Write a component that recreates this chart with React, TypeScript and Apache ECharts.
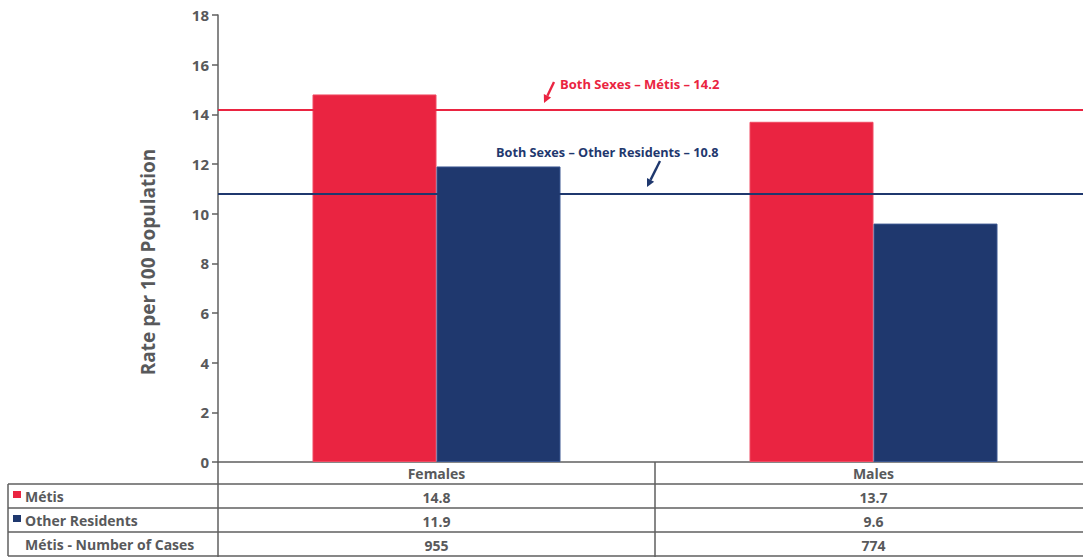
import React, { useEffect, useRef } from "react";
import * as echarts from "echarts";

const categories = ["Females", "Males"];
const metisRates = [14.8, 13.7];
const otherRates = [11.9, 9.6];
const metisCases = [955, 774];
const metisAverage = 14.2;
const otherAverage = 10.8;
const yTicks = { min: 0, max: 18, interval: 2 };
const rowLabels = ["Métis", "Other Residents", "Métis - Number of Cases"];

const RED = "#EA2441";
const NAVY = "#1F386E";
const GREY = "#58595B";
const LINE = "#5f5f5f";
const FONT = "'Open Sans', 'Noto Sans', sans-serif";
const NOTE_FONT = "'Liberation Sans Narrow', 'Open Sans', sans-serif";

function arrow(x1: number, y1: number, x2: number, y2: number, color: string) {
  const dx = x2 - x1;
  const dy = y2 - y1;
  const len = Math.sqrt(dx * dx + dy * dy);
  const ux = dx / len;
  const uy = dy / len;
  const px = -uy;
  const py = ux;
  const head = 8;
  const half = 4;
  const bx = x2 - ux * head;
  const by = y2 - uy * head;
  return [
    {
      type: "line",
      shape: { x1, y1, x2: bx, y2: by },
      style: { stroke: color, lineWidth: 2.4 },
      z: 20,
    },
    {
      type: "polygon",
      shape: {
        points: [
          [x2, y2],
          [bx + px * half, by + py * half],
          [bx - px * half, by - py * half],
        ],
      },
      style: { fill: color },
      z: 20,
    },
  ];
}

export default function App() {
  const ref = useRef<HTMLDivElement>(null);
  useEffect(() => {
    if (!ref.current) return;
    const chart = echarts.init(ref.current, undefined, { renderer: "svg" });
    const tableLines = [484, 508, 532, 556].map((y) => ({
      type: "line",
      shape: { x1: 8, y1: y, x2: 1083, y2: y },
      style: { stroke: LINE, lineWidth: 1.5 },
      z: 10,
    }));
    const rowTexts = rowLabels.map((t, i) => ({
      type: "text",
      x: 25,
      y: 496 + i * 24,
      style: {
        text: t,
        fill: GREY,
        font: `bold 14px ${FONT}`,
        textAlign: "left",
        textVerticalAlign: "middle",
      },
      z: 10,
    }));
    chart.setOption({
      animation: false,
      grid: {
        left: 218,
        top: 15,
        width: 874,
        height: 447,
        containLabel: false,
        outerBoundsMode: "none",
      },
      xAxis: {
        type: "category",
        data: categories,
        axisLine: { show: true, lineStyle: { color: LINE, width: 1.5 } },
        axisTick: { show: true, length: 95, lineStyle: { color: LINE, width: 1.5 } },
        axisLabel: {
          margin: 0,
          color: GREY,
          fontFamily: FONT,
          fontWeight: "bold",
          fontSize: 14,
          lineHeight: 23.8,
          verticalAlign: "top",
          formatter: (v: string, i: number) =>
            [v, metisRates[i].toFixed(1), otherRates[i].toFixed(1), String(metisCases[i])].join("\n"),
        },
      },
      yAxis: {
        type: "value",
        min: yTicks.min,
        max: yTicks.max,
        interval: yTicks.interval,
        splitLine: { show: false },
        axisLine: { show: true, lineStyle: { color: LINE, width: 1.5 } },
        axisTick: { show: true, length: 6, lineStyle: { color: LINE, width: 1.5 } },
        axisLabel: {
          color: GREY,
          fontFamily: FONT,
          fontWeight: "bold",
          fontSize: 15,
          margin: 9,
        },
      },
      series: [
        {
          name: "Métis",
          type: "bar",
          data: metisRates,
          barWidth: 124,
          barGap: "0%",
          itemStyle: { color: RED, borderColor: "#F04A62", borderWidth: 1 },
          markLine: {
            silent: true,
            symbol: "none",
            label: { show: false },
            lineStyle: { color: RED, type: "solid", width: 2 },
            data: [{ yAxis: metisAverage }],
          },
        },
        {
          name: "Other Residents",
          type: "bar",
          data: otherRates,
          barWidth: 124,
          barGap: "0%",
          itemStyle: { color: NAVY, borderColor: "#3A5690", borderWidth: 1 },
          markLine: {
            silent: true,
            symbol: "none",
            label: { show: false },
            lineStyle: { color: NAVY, type: "solid", width: 2 },
            data: [{ yAxis: otherAverage }],
          },
        },
      ],
      graphic: [
        {
          type: "text",
          x: 148,
          y: 262,
          rotation: Math.PI / 2,
          style: {
            text: "Rate per 100 Population",
            fill: GREY,
            font: `bold 19px ${FONT}`,
            textAlign: "center",
            textVerticalAlign: "middle",
          },
        },
        {
          type: "text",
          x: 560,
          y: 84,
          style: {
            text: `Both Sexes – Métis – ${metisAverage}`,
            fill: RED,
            font: `bold 13px ${NOTE_FONT}`,
            textAlign: "left",
            textVerticalAlign: "middle",
          },
          z: 20,
        },
        {
          type: "text",
          x: 496,
          y: 152,
          style: {
            text: `Both Sexes – Other Residents – ${otherAverage}`,
            fill: NAVY,
            font: `bold 12.7px ${NOTE_FONT}`,
            textAlign: "left",
            textVerticalAlign: "middle",
          },
          z: 20,
        },
        ...arrow(554, 82, 544, 103, RED),
        ...arrow(660, 161, 647, 187, NAVY),
        ...tableLines,
        {
          type: "line",
          shape: { x1: 8, y1: 484, x2: 8, y2: 556 },
          style: { stroke: LINE, lineWidth: 1.5 },
          z: 10,
        },
        { type: "rect", shape: { x: 13, y: 491, width: 8, height: 7 }, style: { fill: RED }, z: 10 },
        { type: "rect", shape: { x: 13, y: 515, width: 8, height: 7 }, style: { fill: NAVY }, z: 10 },
        ...rowTexts,
      ],
    });
    return () => chart.dispose();
  }, []);
  return (
    <div
      ref={ref}
      style={{ position: "fixed", left: 0, top: 0, width: 1083, height: 557, background: "#fff" }}
    />
  );
}
